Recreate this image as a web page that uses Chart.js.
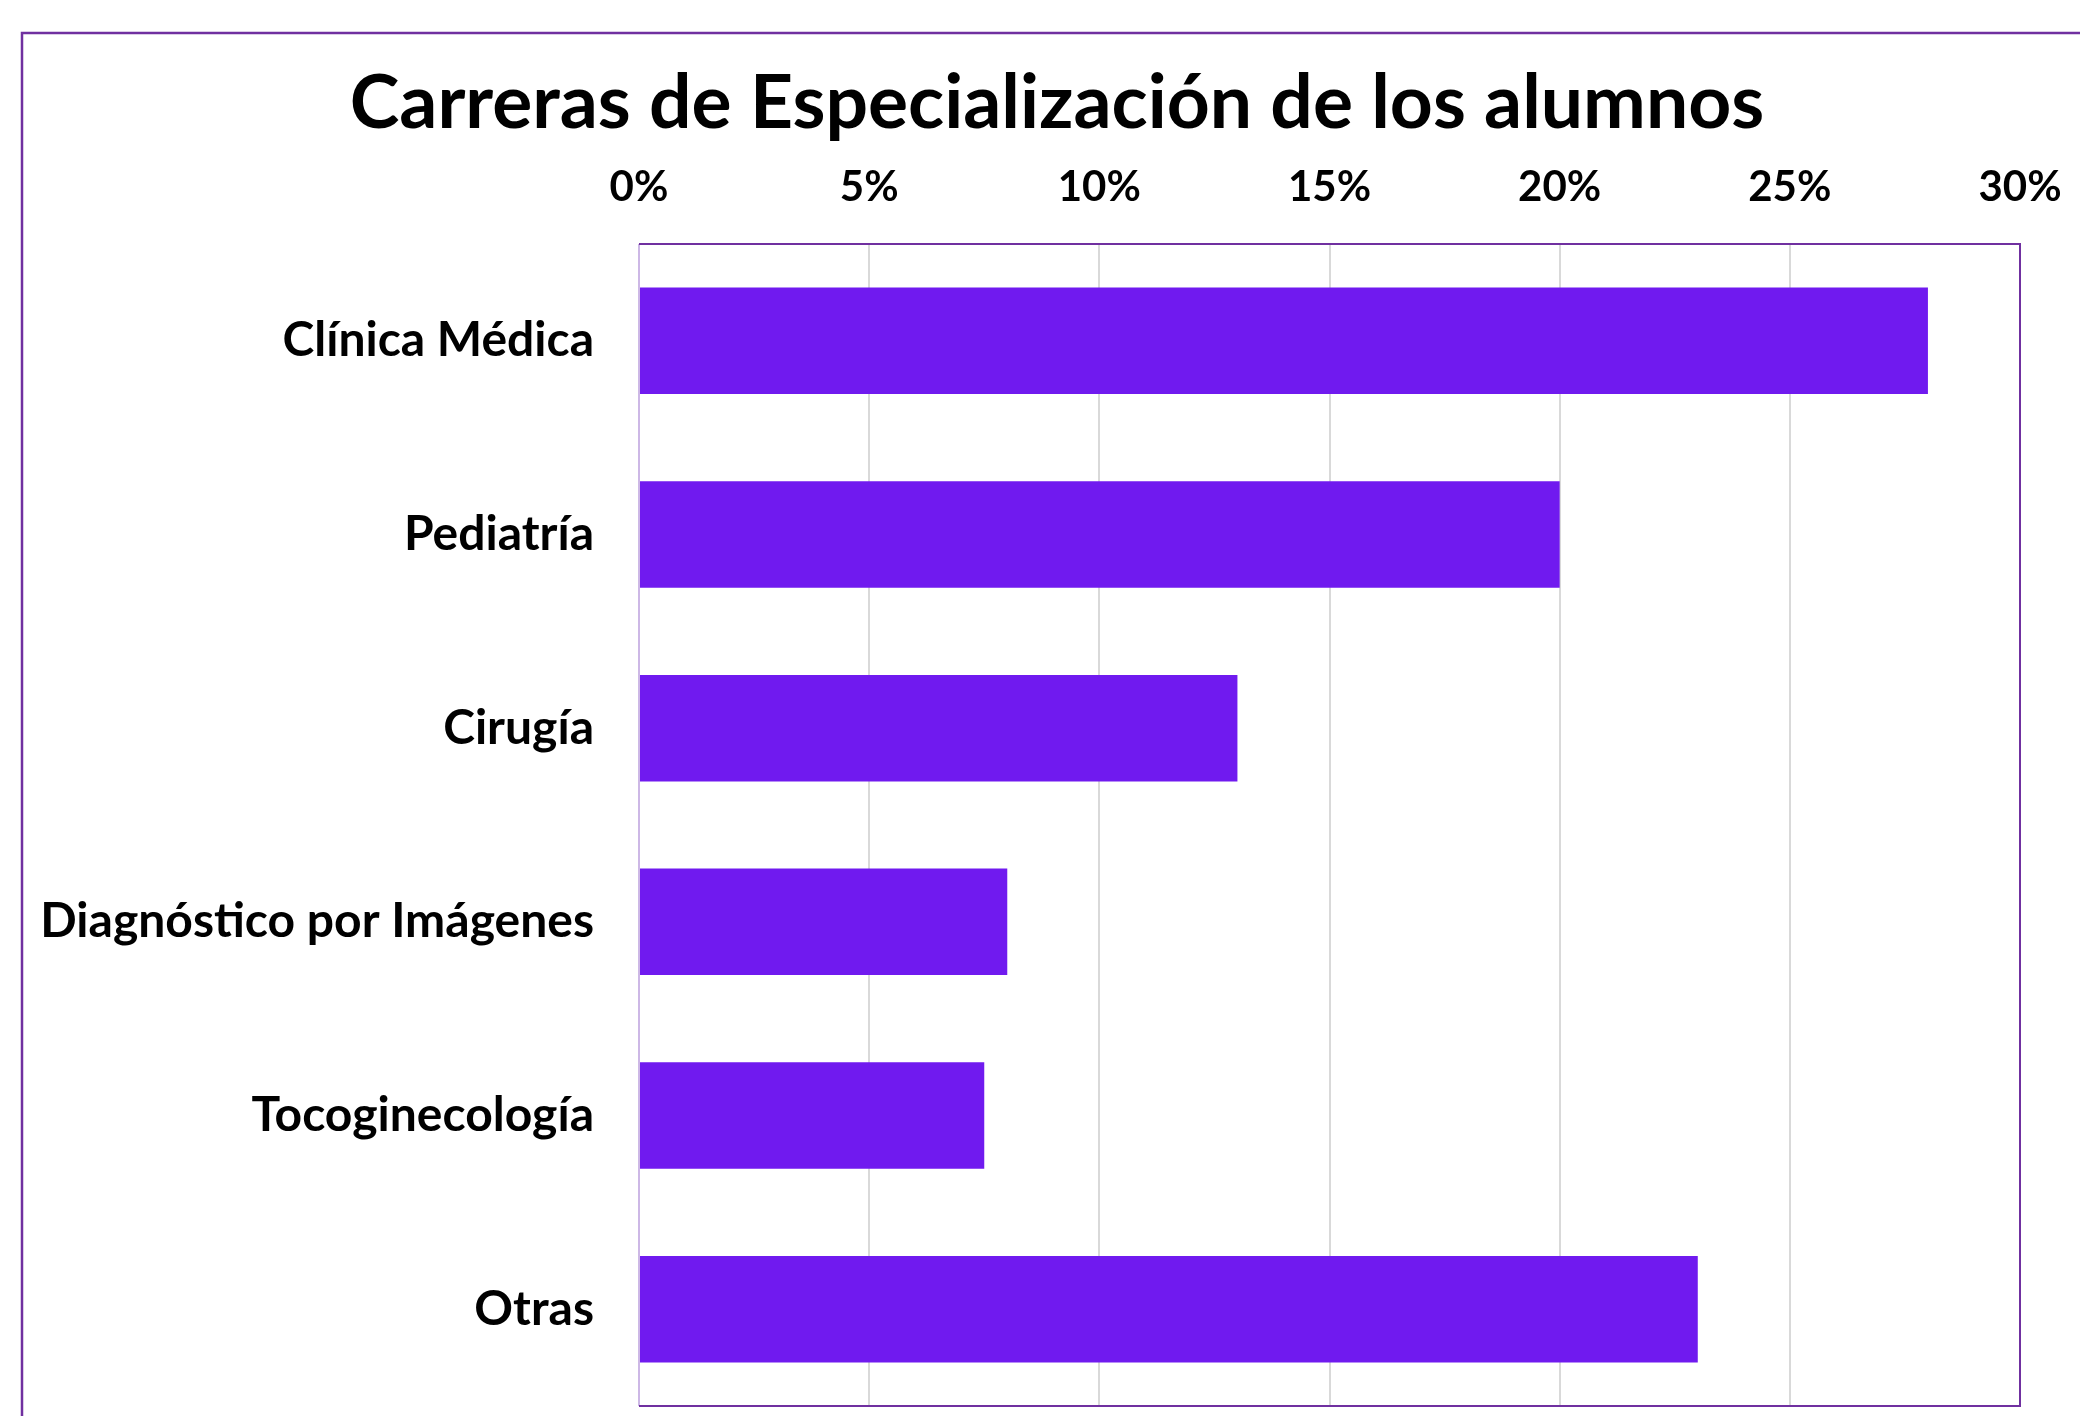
<!DOCTYPE html>
<html>
<head>
<meta charset="utf-8">
<script src="https://cdn.jsdelivr.net/npm/chart.js@4/dist/chart.umd.min.js"></script>
<style>
html,body{margin:0;padding:0;background:#fff;}
#wrap{position:absolute;left:0;top:0;width:2080px;height:1416px;}
</style>
</head>
<body>
<div id="wrap"><canvas id="c" width="2080" height="1416"></canvas></div>
<script>
const titleText = 'Carreras de Especialización de los alumnos';
const categories = ['Clínica Médica','Pediatría','Cirugía','Diagnóstico por Imágenes','Tocoginecología','Otras'];
const shares = [28, 20, 13, 8, 7.5, 23];
const tickStep = 5;
const axisMax = 30;

const frame = {
  id: 'frame',
  beforeDraw(chart) {
    const ctx = chart.ctx;
    ctx.save();
    ctx.strokeStyle = '#7030A0';
    ctx.lineWidth = 2.5;
    ctx.beginPath();
    ctx.moveTo(22, 1416);
    ctx.lineTo(22, 33);
    ctx.lineTo(2080, 33);
    ctx.stroke();
    ctx.restore();
  },
  afterDraw(chart) {
    const a = chart.chartArea;
    const ctx = chart.ctx;
    ctx.save();
    ctx.lineWidth = 2;
    ctx.strokeStyle = '#cdb8e6';
    ctx.beginPath();
    ctx.moveTo(a.left, a.top);
    ctx.lineTo(a.left, a.bottom);
    ctx.stroke();
    ctx.strokeStyle = '#7030A0';
    ctx.beginPath();
    ctx.moveTo(a.left, a.top);
    ctx.lineTo(a.right, a.top);
    ctx.lineTo(a.right, a.bottom);
    ctx.lineTo(a.left, a.bottom);
    ctx.stroke();
    ctx.restore();
  }
};

new Chart(document.getElementById('c'), {
  type: 'bar',
  data: {
    labels: categories,
    datasets: [{
      data: shares,
      backgroundColor: '#701AEF',
      borderWidth: 0,
      categoryPercentage: 1,
      barPercentage: 0.55
    }]
  },
  options: {
    indexAxis: 'y',
    responsive: false,
    animation: false,
    devicePixelRatio: 1,
    layout: { padding: { top: 40, right: 0, left: 34, bottom: 10 } },
    plugins: {
      legend: { display: false },
      tooltip: { enabled: false },
      title: {
        display: true,
        text: titleText,
        color: '#000',
        font: { family: 'Lato', weight: 'bold', size: 75, lineHeight: 1.2 },
        padding: { top: 19, bottom: 0 }
      }
    },
    scales: {
      x: {
        position: 'top',
        min: 0,
        max: axisMax,
        ticks: {
          stepSize: tickStep,
          color: '#000',
          padding: 31,
          font: { family: 'Lato', weight: 'bold', size: 42 },
          callback: v => v + '%'
        },
        grid: { color: '#d9d9d9', lineWidth: 2, drawTicks: false },
        border: { display: false },
        afterFit(s) { s.height = 95; s.paddingLeft = 0; s.paddingRight = 60; }
      },
      y: {
        ticks: {
          color: '#000',
          padding: 45,
          font: { family: 'Lato', weight: 'bold', size: 48 }
        },
        grid: { display: false, drawTicks: false },
        border: { display: false },
        afterFit(s) { s.width = 605; s.paddingTop = 0; s.paddingBottom = 0; }
      }
    }
  },
  plugins: [frame]
});
</script>
</body>
</html>
